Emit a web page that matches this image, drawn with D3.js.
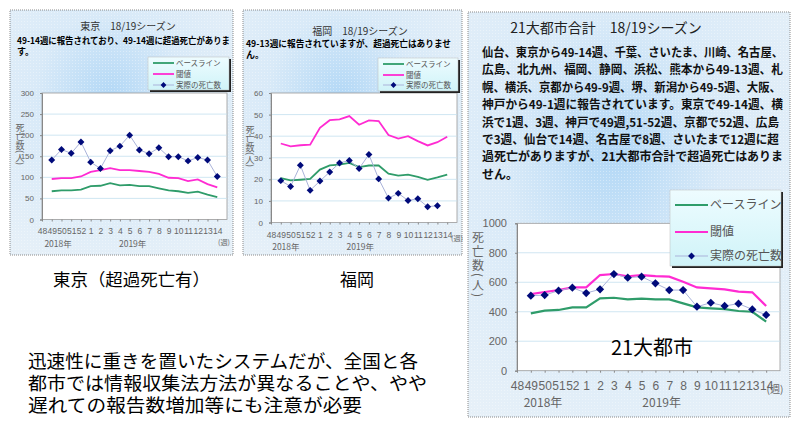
<!DOCTYPE html>
<html>
<head>
<meta charset="utf-8">
<script src="https://cdn.jsdelivr.net/npm/d3@7"></script>
<style>
  body { margin: 0; background: #fff; }
  svg { display: block; font-family: "Noto Sans CJK JP", "Noto Sans", sans-serif; }
</style>
</head>
<body>
<svg id="chart" width="800" height="423"></svg>
<script>
"use strict";

// 週（カテゴリ）
var weeks = ["48", "49", "50", "51", "52", "1", "2", "3", "4", "5", "6", "7", "8", "9", "10", "11", "12", "13", "14"];

// 東京
var tokyoBaseline  = [null, 67, 69, 69, 71, 79, 80, 86, 81, 82, 79, 79, 74, 69, 67, 63, 66, 59, 53];
var tokyoThreshold = [null, 96, 98, 98, 102, 113, 117, 122, 117, 117, 115, 113, 108, 99, 98, 91, 95, 84, 76];
var tokyoActual    = [null, 141, 166, 157, 184, 136, 121, 163, 174, 200, 165, 156, 170, 149, 149, 139, 147, 141, 102];
var tokyoTicks     = [0, 50, 100, 150, 200, 250, 300];

// 福岡
var fukuokaBaseline  = [null, 20.6, 19.5, 19.8, 20.2, 24.5, 26.5, 26.8, 27.6, 25.7, 26.4, 26.4, 22.6, 21.7, 22.2, 21.1, 19.8, 20.9, 22.2];
var fukuokaThreshold = [null, 36.6, 35.3, 35.8, 36.1, 43.9, 47.4, 47.8, 49.3, 45.3, 47.3, 47, 40.5, 38.9, 40, 37.7, 35.7, 37.2, 39.7];
var fukuokaActual    = [null, 19.4, 16.7, 26.5, 14.9, 19.2, 23.4, 27.6, 28.7, 25, 31.5, 20.2, 11.3, 13.5, 10.2, 11, 7.3, 7.8, null];
var fukuokaTicks     = [0, 10, 20, 30, 40, 50, 60];

// 21大都市合計
var cityBaseline  = [null, 389, 407, 412, 430, 430, 491, 495, 484, 489, 484, 484, 457, 430, 423, 418, 405, 400, 333];
var cityThreshold = [null, 520, 534, 547, 565, 565, 649, 656, 640, 649, 642, 638, 604, 565, 559, 552, 536, 532, 439];
var cityActual    = [null, 509, 513, 543, 563, 527, 552, 656, 631, 638, 593, 547, 547, 434, 461, 439, 455, 416, 378];
var cityTicks     = [0, 200, 400, 600, 800, 1000];

var legendNames = ["ベースライン", "閾値", "実際の死亡数"];
var seriesColors = ["#2f9c6a", "#ff2bd2", "#aab3da"];

var svg = d3.select("#chart");
var defs = svg.append("defs");

// パネル背景
var grad = defs.append("radialGradient").attr("id", "panelBg")
    .attr("cx", "45%").attr("cy", "35%").attr("r", "75%");
grad.append("stop").attr("offset", "0%").attr("stop-color", "#b3d8f6");
grad.append("stop").attr("offset", "45%").attr("stop-color", "#d9eaf8");
grad.append("stop").attr("offset", "100%").attr("stop-color", "#e6f0f8");

var lgGrad = defs.append("linearGradient").attr("id", "legendBg")
    .attr("x1", 0).attr("y1", 0).attr("x2", 0).attr("y2", 1);
lgGrad.append("stop").attr("offset", "0%").attr("stop-color", "#eefcff");
lgGrad.append("stop").attr("offset", "100%").attr("stop-color", "#cff3f8");

var dots = defs.append("pattern").attr("id", "dots")
    .attr("width", 3).attr("height", 3).attr("patternUnits", "userSpaceOnUse");
dots.append("rect").attr("width", 1).attr("height", 1).attr("fill", "#fff").attr("opacity", 0.35);

function panel(x, y, w, h) {
    svg.append("rect").attr("x", x).attr("y", y).attr("width", w).attr("height", h)
        .attr("fill", "url(#panelBg)");
    svg.append("rect").attr("x", x).attr("y", y).attr("width", w).attr("height", h)
        .attr("fill", "url(#dots)")
        .attr("stroke", "#8a8a8a").attr("stroke-dasharray", "1,1");
}

function drawChart(o) {
    var step = (o.right - o.left) / weeks.length;
    var x = d3.scalePoint().domain(weeks).range([o.left, o.right - step]);
    var y = d3.scaleLinear().domain([0, o.ticks[o.ticks.length - 1]]).range([o.bottom, o.top]);

    var g = svg.append("g");
    g.append("rect").attr("x", o.left).attr("y", o.top)
        .attr("width", o.right - o.left).attr("height", o.bottom - o.top)
        .attr("fill", "#fff").attr("stroke", "#9a9a9a").attr("stroke-width", 0.8);

    // グリッド
    g.selectAll(".grid").data(o.ticks.slice(1, -1)).enter().append("line")
        .attr("x1", o.left).attr("x2", o.right)
        .attr("y1", function (d) { return y(d); }).attr("y2", function (d) { return y(d); })
        .attr("stroke", "#c4e0ef").attr("stroke-width", 0.8);

    // y軸
    var yAxis = g.append("g").attr("transform", "translate(" + o.left + ",0)")
        .call(d3.axisLeft(y).tickValues(o.ticks).tickFormat(d3.format("d")).tickSize(2).tickPadding(o.yPad));
    yAxis.select(".domain").attr("stroke", "#888");
    yAxis.selectAll(".tick line").attr("stroke", "#888");
    yAxis.selectAll("text").attr("fill", "#666").attr("font-size", o.yFont)
        .attr("font-family", "'Liberation Sans', sans-serif");

    // x軸
    var xAxis = g.append("g").attr("transform", "translate(0," + o.bottom + ")")
        .call(d3.axisBottom(x).tickSize(2).tickPadding(o.xPad));
    xAxis.select(".domain").remove();
    xAxis.selectAll(".tick line").attr("stroke", "#888");
    xAxis.selectAll("text").attr("fill", "#666").attr("font-size", o.xFont)
        .attr("font-family", "'Liberation Sans', sans-serif");

    g.append("text").attr("x", o.left + o.year1 * (o.right - o.left)).attr("y", o.yearY)
        .attr("text-anchor", "middle").attr("fill", "#666").attr("font-size", o.xFont).text("2018年");
    g.append("text").attr("x", o.left + o.year2 * (o.right - o.left)).attr("y", o.yearY)
        .attr("text-anchor", "middle").attr("fill", "#666").attr("font-size", o.xFont).text("2019年");
    g.append("text").attr("x", o.weekX).attr("y", o.weekY)
        .attr("text-anchor", "middle").attr("fill", "#666").attr("font-size", o.xFont * 0.85).text("(週)");

    // 縦書きラベル
    g.append("text").attr("x", o.labelX).attr("y", o.labelY)
        .attr("writing-mode", "vertical-rl").attr("fill", "#666")
        .attr("font-size", o.labelFont).attr("letter-spacing", o.labelSpacing)
        .text("死亡数(人)");

    var line = d3.line()
        .defined(function (d) { return d != null; })
        .x(function (d, i) { return x(weeks[i]); })
        .y(function (d) { return y(d); });

    [o.baseline, o.threshold, o.actual].forEach(function (s, k) {
        g.append("path").datum(s).attr("d", line).attr("fill", "none")
            .attr("stroke", seriesColors[k]).attr("stroke-width", k < 2 ? o.lineW : 1);
    });

    var sym = d3.symbol().type(d3.symbolSquare).size(o.markSize);
    g.selectAll(".mark").data(o.actual.map(function (d, i) { return { v: d, w: weeks[i] }; })
        .filter(function (d) { return d.v != null; }))
        .enter().append("path")
        .attr("d", sym)
        .attr("transform", function (d) { return "translate(" + x(d.w) + "," + y(d.v) + ") rotate(45)"; })
        .attr("fill", "#000a7a");

    // 凡例
    var L = o.legend;
    g.append("rect").attr("x", L.x + 2).attr("y", L.y + 2).attr("width", L.w).attr("height", L.h)
        .attr("fill", "#222");
    g.append("rect").attr("x", L.x).attr("y", L.y).attr("width", L.w).attr("height", L.h)
        .attr("fill", "url(#legendBg)").attr("stroke", "#bbb").attr("stroke-width", 0.5);
    legendNames.forEach(function (name, k) {
        var ry = L.y + L.rows[k];
        g.append("line").attr("x1", L.x + L.s0).attr("x2", L.x + L.s1)
            .attr("y1", ry).attr("y2", ry)
            .attr("stroke", seriesColors[k]).attr("stroke-width", k < 2 ? o.lineW : 1);
        if (k === 2) {
            g.append("path").attr("d", d3.symbol().type(d3.symbolSquare).size(o.markSize * 0.7))
                .attr("transform", "translate(" + (L.x + (L.s0 + L.s1) / 2) + "," + ry + ") rotate(45)")
                .attr("fill", "#000a7a");
        }
        g.append("text").attr("x", L.x + L.s1 + 2).attr("y", ry).attr("dy", "0.35em")
            .attr("font-size", L.font).attr("fill", "#555").text(name);
    });
}

// ---- パネル ----
panel(10, 10, 223, 245);
panel(243, 10, 219, 245);
panel(468, 12, 322, 405);

// 東京
svg.append("text").attr("x", 128).attr("y", 30).attr("text-anchor", "middle")
    .attr("font-size", 10).attr("fill", "#333").text("東京　18/19シーズン");
svg.append("text").attr("x", 17).attr("y", 44).attr("font-size", 9).attr("font-weight", "bold")
    .attr("textLength", 213).attr("lengthAdjust", "spacingAndGlyphs")
    .text("49-14週に報告されており、49-14週に超過死亡がありま");
svg.append("text").attr("x", 17).attr("y", 55).attr("font-size", 9).attr("font-weight", "bold").text("す。");

drawChart({
    left: 42, right: 227, top: 93, bottom: 219.5,
    ticks: tokyoTicks, baseline: tokyoBaseline, threshold: tokyoThreshold, actual: tokyoActual,
    yFont: 8, xFont: 8.5, yPad: 6, xPad: 6, lineW: 1.8, markSize: 24,
    year1: 0.087, year2: 0.49, yearY: 247, weekX: 224, weekY: 245,
    labelX: 20, labelY: 123, labelFont: 9, labelSpacing: 0,
    legend: { x: 148, y: 57, w: 81, h: 33, rows: [6, 17, 28], s0: 5, s1: 26, font: 7.5 }
});

// 福岡
svg.append("text").attr("x", 360).attr("y", 35).attr("text-anchor", "middle")
    .attr("font-size", 10).attr("fill", "#333").text("福岡　18/19シーズン");
svg.append("text").attr("x", 246).attr("y", 47).attr("font-size", 9).attr("font-weight", "bold")
    .attr("textLength", 205).attr("lengthAdjust", "spacingAndGlyphs")
    .text("49-13週に報告されていますが、超過死亡はありませ");
svg.append("text").attr("x", 246).attr("y", 58).attr("font-size", 9).attr("font-weight", "bold").text("ん。");

drawChart({
    left: 271, right: 457, top: 93, bottom: 222.5,
    ticks: fukuokaTicks, baseline: fukuokaBaseline, threshold: fukuokaThreshold, actual: fukuokaActual,
    yFont: 8, xFont: 8.5, yPad: 6, xPad: 7, lineW: 1.8, markSize: 24,
    year1: 0.08, year2: 0.48, yearY: 250, weekX: 457, weekY: 241,
    labelX: 250, labelY: 125, labelFont: 9, labelSpacing: 0,
    legend: { x: 378, y: 58, w: 80, h: 33, rows: [6, 17, 27], s0: 5, s1: 26, font: 7.5 }
});

// 21大都市
svg.append("text").attr("x", 606).attr("y", 33).attr("text-anchor", "middle")
    .attr("font-size", 14).attr("fill", "#222").text("21大都市合計　18/19シーズン");

var bodyLines = [
    "仙台、東京から49-14週、千葉、さいたま、川崎、名古屋、",
    "広島、北九州、福岡、静岡、浜松、熊本から49-13週、札",
    "幌、横浜、京都から49-9週、堺、新潟から49-5週、大阪、",
    "神戸から49-1週に報告されています。東京で49-14週、横",
    "浜で1週、3週、神戸で49週,51-52週、京都で52週、広島",
    "で3週、仙台で14週、名古屋で8週、さいたまで12週に超",
    "過死亡がありますが、21大都市合計で超過死亡はありま",
    "せん。"
];
var bodyWidths = [301, 301, 299, 301, 297, 297, 301, null];
bodyLines.forEach(function (t, i) {
    var tx = svg.append("text").attr("x", 482).attr("y", 57 + i * 17.4)
        .attr("font-size", 12).attr("font-weight", "bold").attr("fill", "#111").text(t);
    if (bodyWidths[i]) tx.attr("textLength", bodyWidths[i]).attr("lengthAdjust", "spacingAndGlyphs");
});

drawChart({
    left: 517, right: 780, top: 223.3, bottom: 370.7,
    ticks: cityTicks, baseline: cityBaseline, threshold: cityThreshold, actual: cityActual,
    yFont: 11, xFont: 12, yPad: 8, xPad: 9, lineW: 2.2, markSize: 34,
    year1: 0.099, year2: 0.55, yearY: 407, weekX: 775, weekY: 393,
    labelX: 478, labelY: 231, labelFont: 12, labelSpacing: 2,
    legend: { x: 670, y: 190, w: 111, h: 76, rows: [15, 42, 66], s0: 5, s1: 38, font: 12 }
});

svg.append("text").attr("x", 652).attr("y", 355).attr("text-anchor", "middle")
    .attr("font-size", 20).attr("fill", "#000").text("21大都市");

// 下部テキスト
svg.append("text").attr("x", 53).attr("y", 286).attr("font-size", 17)
    .attr("textLength", 157).attr("lengthAdjust", "spacingAndGlyphs").text("東京（超過死亡有）");
svg.append("text").attr("x", 340).attr("y", 286).attr("font-size", 17).text("福岡");

var noteLines = [
    "迅速性に重きを置いたシステムだが、全国と各",
    "都市では情報収集法方法が異なることや、やや",
    "遅れての報告数増加等にも注意が必要"
];
var noteWidths = [390, 399, 334];
noteLines.forEach(function (t, i) {
    svg.append("text").attr("x", 28).attr("y", 368 + i * 22).attr("font-size", 18.5)
        .attr("textLength", noteWidths[i]).attr("lengthAdjust", "spacingAndGlyphs").text(t);
});
</script>
</body>
</html>
